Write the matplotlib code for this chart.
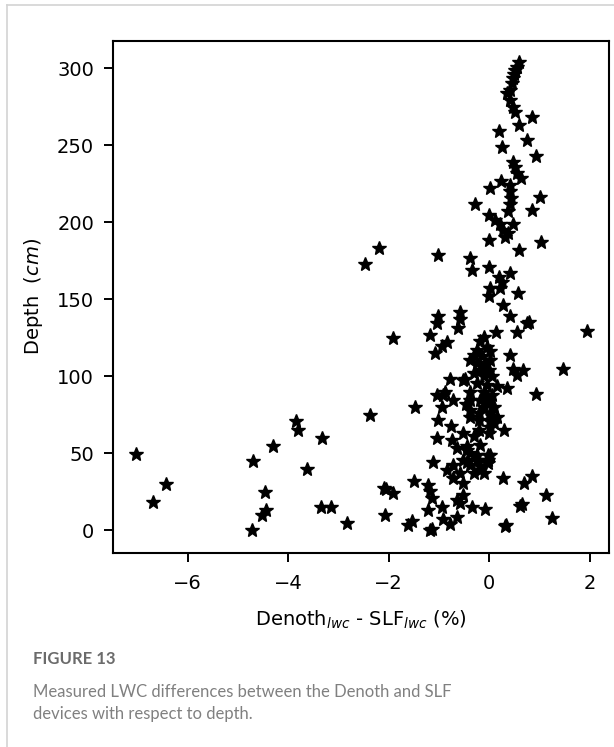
import matplotlib
matplotlib.use('Agg')
from matplotlib import pyplot as plt
from matplotlib.lines import Line2D

# Diferencia Denoth - SLF (%) y profundidad (cm)
lwc_diff = [
    0.60, 0.55, 0.52, 0.50, 0.48, 0.45, 0.42, 0.35, 0.42, 0.48, 0.52, 0.85,
    0.60, 0.19, 0.76, 0.25, 0.94, 0.48, 0.52, 0.55, 0.63, 0.23, 0.02, 0.42,
    0.42, 0.44, 0.42, 1.02, -0.28, 0.85, 0.38, -0.01, 0.12, 0.22, 0.48, 0.28,
    0.38, 0.32, -0.01, 1.04, 0.60, -2.20, -2.47, -1.01, -0.38, -0.34, -0.01, 0.42,
    0.19, 0.25, 0.22, 0.02, -0.01, 0.58, 0.28, 0.42, 0.75, 0.80, 0.55, 0.14,
    1.95, -1.01, -1.04, -0.58, -0.58, -0.61, -1.91, -1.18, -0.94, -0.84, -1.08,
    -0.11, -0.18, -0.05, -0.25, -0.31, -0.38, 0.02, 0.02, -0.08, -0.18, -0.05,
    0.05, -0.15, -0.01, -0.31, -0.51, -0.11, -0.25, 0.42, 0.48, 0.68, 0.55,
    1.47, -0.78, -0.48,
    -0.25, -0.05, 0.15, 0.05, 0.35, -0.38, -0.18, -0.38, -0.71, -0.91, -1.04,
    -0.88, -0.94, -0.38, -0.11, 0.02, 0.15, -1.01, -0.76, -0.38, -0.21, 0.09,
    0.94, -1.47, -2.38, 0.30, -0.51, -0.31, -0.21, 0.02, 0.02, -0.01, -1.04,
    -0.74, -0.10, -0.20, 0.00, -0.05, 0.10, -0.45,
    -0.64, -0.44, -0.18, -0.03, -0.03, -0.03, -0.38, -0.44, -0.25, -0.18, -1.11,
    -0.84, -0.71, -0.71, -0.51, -1.21, -1.18, -1.14, -0.64, -0.58, -0.51, 0.28,
    0.70, 0.85, 1.13, -1.50, -2.10, -1.92, -0.44, -0.25, 0.02, -0.51, -0.38,
    -0.18, -0.05, -0.31, -0.11, -0.58, 0.05,
    -1.21, -1.18, -1.14, -0.94, -0.34, -0.08, -0.91, -0.78, -0.64, 0.62, 0.65,
    0.32, 0.34, 1.26, -1.61, -1.54, -2.07, -2.82, -3.35, -3.15, -4.73, -4.44,
    -4.53, -4.46, -6.69, -6.44, -7.04, -4.71, -4.30, -3.85, -3.81, -3.63, -3.33,
    -2.05,
]
depth = [
    304, 301, 298.5, 296, 293.5, 290, 286, 283.5, 279, 275, 271.5, 268,
    263, 259, 253, 248.5, 243, 239, 236, 232, 228.5, 227, 222, 224,
    220, 215.5, 212, 216.5, 212, 208, 207, 204.5, 201.5, 198.5, 199, 195,
    193, 190.5, 188.5, 187, 182, 183, 173, 179, 176.5, 169, 171, 167,
    164.5, 161, 157, 157, 152, 154, 146.5, 139, 134.5, 135, 129, 129,
    129.5, 139, 134.5, 142, 137.5, 131.5, 125, 127, 119.5, 122, 115,
    125.8, 122.6, 119.3, 117.2, 113.9, 110.7, 116.1, 110.7, 107.4, 104.2, 102,
    99.9, 112.9, 104.2, 102, 97.7, 99.9, 108.6, 114, 105, 104, 101,
    104.7, 98.2, 98.2,
    95.6, 94.5, 93.4, 88, 92.3, 90.1, 84.8, 84.8, 84.8, 88, 88,
    89.5, 80, 78.3, 80.4, 76.1, 73.9, 71.8, 67.6, 73.9, 71.8, 69.6,
    88.6, 80, 74.6, 64.9, 63.2, 61, 65, 67.4, 70.7, 63.2, 60,
    58.8, 90, 76, 84, 86, 80, 82,
    53.4, 54.5, 55.6, 49, 46, 43.7, 50.2, 44.7, 45.8, 39.4, 44.7,
    39.4, 42.6, 34, 30.7, 29.6, 25.3, 21, 20, 18, 23, 34,
    30.7, 35.5, 22.7, 31.8, 27.5, 24.6, 52.3, 49, 49, 45.8, 42.6,
    41.5, 44.7, 37.2, 37.2, 37.2, 74,
    13.4, 0.5, 1, 15.2, 15.2, 13.9, 7.5, 4.3, 9, 15.6, 17,
    2.6, 3.5, 8, 3.7, 5.8, 10, 4.8, 15, 15, 0, 13,
    10, 24.9, 18.2, 30.3, 49.5, 45.2, 55, 70.7, 65.3, 40, 59.7,
    27,
]

x_ticks = [-6, -4, -2, 0, 2]
y_ticks = [0, 50, 100, 150, 200, 250, 300]

fig = plt.figure(figsize=(6.14, 7.47), dpi=100)
ax = fig.add_axes([0.184, 0.26, 0.808, 0.685])

ax.plot(lwc_diff, depth, 'k*', markersize=10.5)

ax.set_xlim(-7.49, 2.39)
ax.set_ylim(-14.5, 317.5)
ax.set_xticks(x_ticks)
ax.set_yticks(y_ticks)
ax.tick_params(labelsize=14, width=1.4, length=6.5, pad=7)
ax.tick_params(axis='x', pad=9)
for s in ax.spines.values():
    s.set_linewidth(1.5)

ax.set_xlabel(r'Denoth$_{lwc}$ - SLF$_{lwc}$ (%)', fontsize=14, labelpad=11)
ax.set_ylabel(r'Depth  $\mathit{(cm)}$', fontsize=14, labelpad=9)

# marco gris claro de la figura
fig.add_artist(Line2D([7 / 614, 1], [1 - 5 / 747, 1 - 5 / 747], color='#d3d3d3', lw=1.2))
fig.add_artist(Line2D([7 / 614, 7 / 614], [0, 1 - 5 / 747], color='#d3d3d3', lw=1.2))

# pie de figura
fig.text(33 / 614, 1 - 659 / 747, 'FIGURE 13', fontsize=12, family='Lato',
         weight='bold', color='#6b6b6b', va='center')
fig.text(33 / 614, 1 - 692 / 747,
         'Measured LWC differences between the Denoth and SLF',
         fontsize=12, family='Lato', color='#808080', va='center')
fig.text(33 / 614, 1 - 714 / 747, 'devices with respect to depth.',
         fontsize=12, family='Lato', color='#808080', va='center')

plt.savefig('out.png', dpi=100)
